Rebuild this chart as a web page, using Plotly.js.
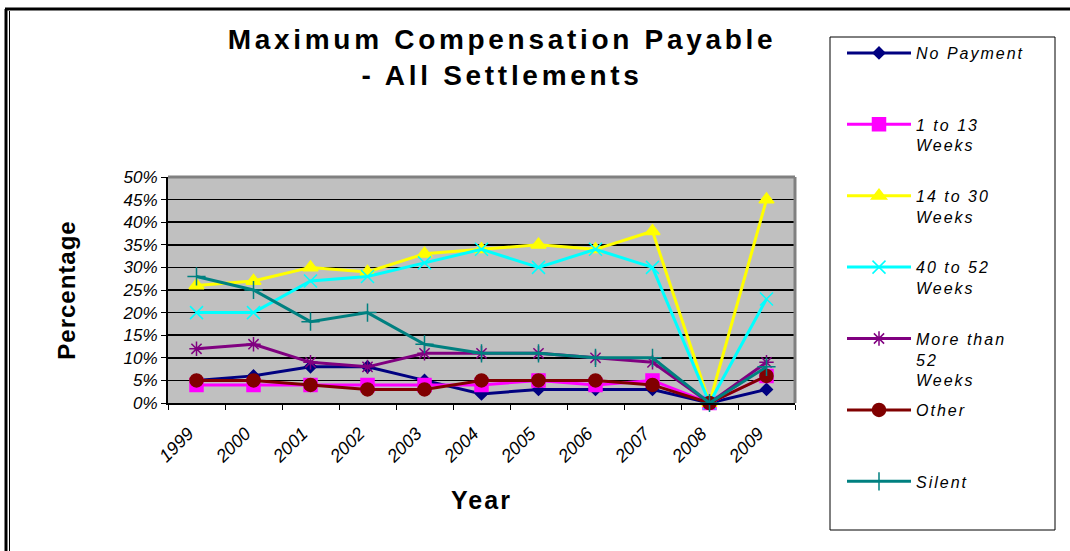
<!DOCTYPE html>
<html>
<head>
<meta charset="utf-8">
<script src="https://cdn.plot.ly/plotly-3.0.1.min.js"></script>
<style>
html,body{margin:0;padding:0;background:#fff;}
#chart{width:1070px;height:551px;}
.gtitle{letter-spacing:3.7px;}
.xtitle{letter-spacing:2px;}
.ytitle{letter-spacing:1px;}
.legendtext{letter-spacing:2px;}
</style>
</head>
<body>
<div id="chart"></div>
<script>
const years = ["1999","2000","2001","2002","2003","2004","2005","2006","2007","2008","2009"];
const noPayment   = [5, 6, 8, 8, 5, 2, 3, 3, 3, 0, 3];
const w1to13      = [4, 4, 4, 4, 4, 4, 5, 4, 5, 0, 6];
const w14to30     = [26, 27, 30, 29, 33, 34, 35, 34, 38, 0, 45];
const w40to52     = [20, 20, 27, 28, 31, 34, 30, 34, 30, 0, 23];
const moreThan52  = [12, 13, 9, 8, 11, 11, 11, 10, 9, 0, 9];
const other       = [5, 5, 4, 3, 3, 5, 5, 5, 4, 0, 6];
const silent      = [28, 25, 18, 20, 13, 11, 11, 10, 10, 0, 8];
const seriesNames = ["No Payment", "1 to 13<br>Weeks", "14 to 30<br>Weeks", "40 to 52<br>Weeks", "More than<br>52<br>Weeks", "Other", "Silent"];
const tickVals = [0, 5, 10, 15, 20, 25, 30, 35, 40, 45, 50];
const tickText = ["0%","5%","10%","15%","20%","25%","30%","35%","40%","45%","50%"];

function pad(name){
  const n = name.split("<br>").length;
  let s = name;
  for (let i = n; i < 3; i++) s += "<br> ";
  return s;
}

const styles = [
  {color:"#000080", symbol:"diamond", size:9},
  {color:"#FF00FF", symbol:"square", size:13},
  {color:"#FFFF00", symbol:"triangle-up", size:13},
  {color:"#00FFFF", symbol:"x-thin-open", size:13},
  {color:"#800080", symbol:"asterisk-open", size:12},
  {color:"#800000", symbol:"circle", size:13},
  {color:"#008080", symbol:"cross-thin-open", size:13}
];
const data = [noPayment, w1to13, w14to30, w40to52, moreThan52, other, silent];

const traces = data.map((vals, i) => ({
  type: "scatter",
  mode: "lines+markers",
  x: years,
  y: vals,
  name: pad(seriesNames[i]),
  legendgroup: "g" + i,
  cliponaxis: false,
  line: {color: styles[i].color, width: 3},
  marker: {color: styles[i].color, symbol: styles[i].symbol, size: styles[i].size,
           line: {color: styles[i].color, width: 1.5}},
  hoverinfo: "skip"
}));

const L = 168, R = 795, T = 177, B = 403;
const px = v => (v - L) / (R - L);
const py = v => (B - v) / (B - T);

const layout = {
  width: 1070, height: 551, autosize: false,
  margin: {l: L, r: 1070 - R, t: T, b: 551 - B, pad: 0},
  paper_bgcolor: "#FFFFFF",
  plot_bgcolor: "#C0C0C0",
  font: {family: "Liberation Sans, Arial, sans-serif", color: "#000"},
  title: {
    text: "<b>Maximum Compensation Payable<br>- All Settlements</b>",
    font: {size: 28, family: "Liberation Sans, Arial, sans-serif", color: "#000"},
    x: 502/1070, xanchor: "center", xref: "container",
    y: 1 - 49/551, yanchor: "top", yref: "container"
  },
  xaxis: {
    type: "category",
    range: [-0.5, years.length - 0.5],
    tickson: "boundaries",
    ticks: "outside", ticklen: 5, tickcolor: "#000", tickwidth: 1,
    tickangle: -45,
    ticklabelstandoff: 11,
    ticklabelshift: -8,
    tickfont: {size: 18, style: "italic"},
    showline: true, linecolor: "#000", linewidth: 2,
    showgrid: false, zeroline: false,
    fixedrange: true,
    title: {text: "<b>Year</b>", font: {size: 25}, standoff: 26}
  },
  yaxis: {
    range: [0, 50],
    tickvals: tickVals, ticktext: tickText,
    ticks: "outside", ticklen: 5, tickcolor: "#000", tickwidth: 1,
    tickfont: {size: 17, style: "italic"},
    showline: true, linecolor: "#000", linewidth: 2,
    showgrid: true, gridcolor: "#000", gridwidth: 1.5,
    zeroline: false,
    fixedrange: true,
    title: {text: "<b>Percentage</b>", font: {size: 24}, standoff: 40}
  },
  showlegend: true,
  legend: {
    x: px(842), y: py(36), xanchor: "left", yanchor: "top",
    bgcolor: "rgba(0,0,0,0)", borderwidth: 0,
    font: {size: 16, style: "italic", family: "Liberation Sans, Arial, sans-serif"},
    valign: "top",
    tracegroupgap: 6,
    itemwidth: 64,
    maxheight: 600
  },
  shapes: [
    {type: "line", xref: "paper", yref: "paper", x0: 0, x1: 1, y0: 1, y1: 1, line: {color: "#808080", width: 3}},
    {type: "line", xref: "paper", yref: "paper", x0: 1, x1: 1, y0: 0, y1: 1, line: {color: "#808080", width: 3}},
    {type: "rect", xref: "paper", yref: "paper", x0: px(830), x1: px(1055), y0: py(530), y1: py(37), line: {color: "#000", width: 1}},
    {type: "line", xref: "paper", yref: "paper", x0: px(5), x1: px(1075), y0: py(9), y1: py(9), line: {color: "#000", width: 3}},
    {type: "line", xref: "paper", yref: "paper", x0: px(6), x1: px(6), y0: py(9), y1: py(560), line: {color: "#000", width: 3}},
    {type: "line", xref: "paper", yref: "paper", x0: px(9.5), x1: px(9.5), y0: py(11), y1: py(560), line: {color: "#000", width: 1}}
  ]
};

Plotly.newPlot("chart", traces, layout, {displayModeBar: false, staticPlot: true});
</script>
</body>
</html>
